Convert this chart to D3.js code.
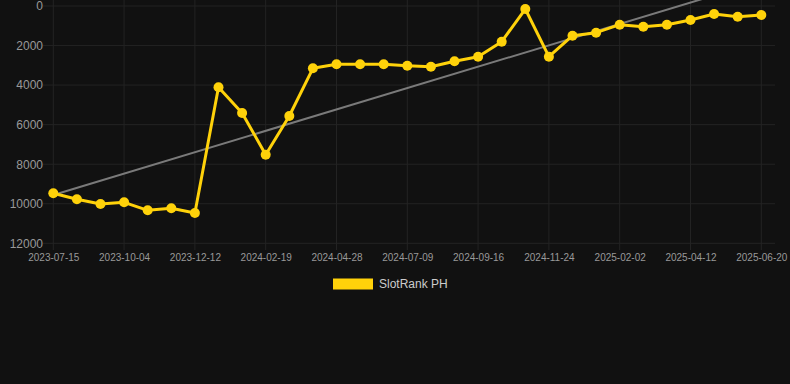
<!DOCTYPE html>
<html>
<head>
<meta charset="utf-8">
<script src="https://cdn.jsdelivr.net/npm/d3@7"></script>
<style>
  html, body { margin: 0; padding: 0; background: #111111; }
  svg { display: block; }
  text { font-family: "Liberation Sans", Arial, Helvetica, sans-serif; }
</style>
</head>
<body>
<svg id="chart" width="790" height="384"></svg>
<script>
const dates = [
  "2023-07-15","2023-08-11","2023-09-07","2023-10-04","2023-10-27","2023-11-19",
  "2023-12-12","2024-01-04","2024-01-27","2024-02-19","2024-03-13","2024-04-05",
  "2024-04-28","2024-05-22","2024-06-15","2024-07-09","2024-08-01","2024-08-24",
  "2024-09-16","2024-10-09","2024-11-01","2024-11-24","2024-12-17","2025-01-09",
  "2025-02-02","2025-02-25","2025-03-20","2025-04-12","2025-05-05","2025-05-28",
  "2025-06-20"
];
const rankValues = [
  9470, 9775, 10012, 9928, 10333, 10232,
  10468, 4112, 5411, 7519, 5563, 3152,
  2950, 2950, 2950, 3018, 3068, 2798,
  2562, 1804, 152, 2562, 1500, 1349,
  944, 1045, 944, 708, 405, 540,
  455
];
const xTickLabels = [
  "2023-07-15","2023-10-04","2023-12-12","2024-02-19","2024-04-28","2024-07-09",
  "2024-09-16","2024-11-24","2025-02-02","2025-04-12","2025-06-20"
];
const yTicks = [0, 2000, 4000, 6000, 8000, 10000, 12000];
const seriesName = "SlotRank PH";

const svg = d3.select("#chart");

const x = d3.scalePoint().domain(dates).range([53.3, 761.3]);
const y = d3.scaleLinear().domain([0, 12000]).range([6, 243.3]);

const gridColor = "#232323";
const labelColor = "#999999";

// horizontal grid
svg.append("g").selectAll("line").data(yTicks).join("line")
  .attr("x1", 43).attr("x2", 775)
  .attr("y1", d => y(d)).attr("y2", d => y(d))
  .attr("stroke", gridColor).attr("stroke-width", 1);

// vertical grid
svg.append("g").selectAll("line").data(xTickLabels).join("line")
  .attr("x1", d => x(d)).attr("x2", d => x(d))
  .attr("y1", 0).attr("y2", 250)
  .attr("stroke", gridColor).attr("stroke-width", 1);

// y axis labels
const yAxis = d3.axisLeft(y).tickValues(yTicks).tickFormat(d3.format("d")).tickSize(0).tickPadding(0);
const gy = svg.append("g").attr("transform", "translate(43,0)").call(yAxis);
gy.select(".domain").remove();
gy.selectAll("text").attr("fill", labelColor).attr("font-size", "12px")
  .attr("font-family", "Liberation Sans, Arial, sans-serif");

// x axis labels
const xAxis = d3.axisBottom(x).tickValues(xTickLabels).tickSize(0).tickPadding(0);
const gx = svg.append("g").attr("transform", "translate(0,254)").call(xAxis);
gx.select(".domain").remove();
gx.selectAll("text").attr("fill", labelColor).attr("font-size", "10px")
  .attr("dy", "0.71em")
  .attr("font-family", "Liberation Sans, Arial, sans-serif");

// trend line (least-squares regression of the series)
const n = rankValues.length;
const idx = d3.range(n);
const mx = d3.mean(idx), my = d3.mean(rankValues);
const slope = d3.sum(idx, i => (i - mx) * (rankValues[i] - my)) / d3.sum(idx, i => (i - mx) ** 2);
const intercept = my - slope * mx;
svg.append("line")
  .attr("x1", x(dates[0])).attr("y1", y(intercept))
  .attr("x2", x(dates[n - 1])).attr("y2", y(intercept + slope * (n - 1)))
  .attr("stroke", "#7a7a7a").attr("stroke-width", 2);

// series line
const data = dates.map((d, i) => ({ date: d, value: rankValues[i] }));
const yellow = "#FFD20A";
svg.append("path").datum(data)
  .attr("fill", "none").attr("stroke", yellow).attr("stroke-width", 3)
  .attr("stroke-linejoin", "round")
  .attr("d", d3.line().x(d => x(d.date)).y(d => y(d.value)));

svg.append("g").selectAll("circle").data(data).join("circle")
  .attr("cx", d => x(d.date)).attr("cy", d => y(d.value))
  .attr("r", 5).attr("fill", yellow);

// legend
const lg = svg.append("g");
lg.append("rect").attr("x", 333).attr("y", 278.5).attr("width", 40).attr("height", 11)
  .attr("fill", yellow);
lg.append("text").attr("x", 379).attr("y", 284).attr("dy", "0.35em")
  .attr("fill", "#cccccc").attr("font-size", "12px").text(seriesName);
</script>
</body>
</html>
